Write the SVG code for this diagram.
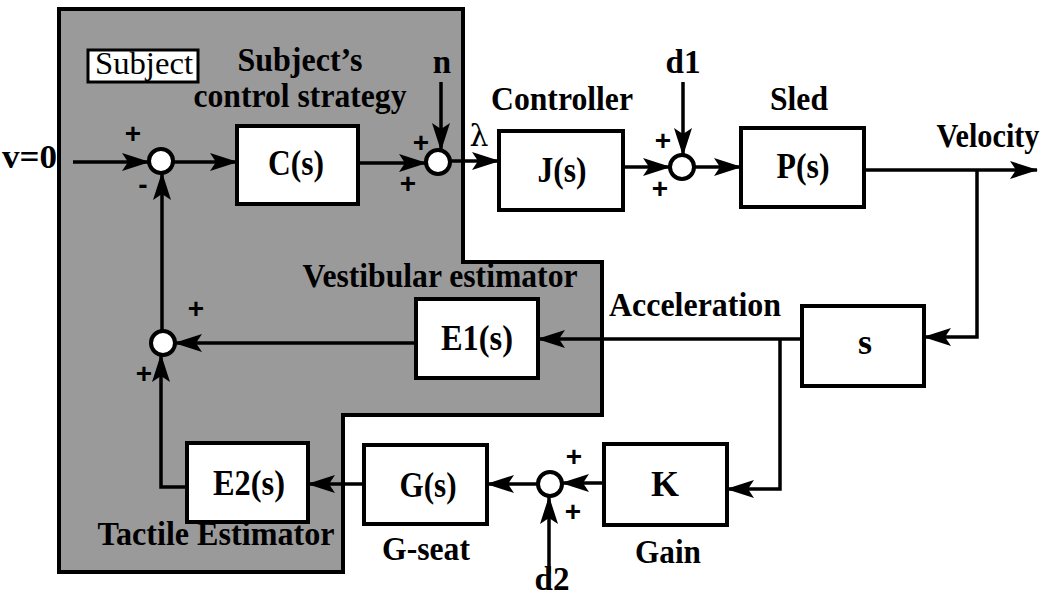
<svg xmlns="http://www.w3.org/2000/svg" width="1047" height="596" viewBox="0 0 1047 596">
<style>
.lbl{font-family:"Liberation Serif","Times New Roman",serif;font-weight:bold;font-size:33px;fill:#000;text-anchor:middle}
.bl{font-family:"Liberation Serif","Times New Roman",serif;font-weight:bold;font-size:36px;fill:#000;text-anchor:middle}
.pm{font-family:"Liberation Sans",Arial,sans-serif;font-weight:bold;font-size:28px;fill:#000;text-anchor:middle}
.box{fill:#fff;stroke:#000;stroke-width:4}
.sum{fill:#fff;stroke:#000;stroke-width:4}
.ln{fill:none;stroke:#000;stroke-width:3.5;marker-end:url(#ah)}
</style>
<defs>
<marker id="ah" viewBox="-30 -10 32 20" refX="0" refY="0" markerWidth="32" markerHeight="20" markerUnits="userSpaceOnUse" orient="auto">
<path d="M1,0 L-27,-9 L-21,0 L-27,9 Z" fill="#000"/>
</marker>
</defs>
<rect width="1047" height="596" fill="#fff"/>
<g id="subject">
<path d="M59,9 H463 V262 H602 V415 H343 V572 H59 Z" fill="#9a9a9a" stroke="#000" stroke-width="4"/>
<rect x="88" y="50" width="110" height="32" fill="#fff" stroke="#000" stroke-width="3"/>
<text x="144" y="74" textLength="98" lengthAdjust="spacingAndGlyphs" style="font-family:'Liberation Serif','Times New Roman',serif;font-size:32px;text-anchor:middle">Subject</text>
<text class="lbl" x="300" y="71" textLength="125" lengthAdjust="spacingAndGlyphs">Subject’s</text>
<text class="lbl" x="300" y="107" textLength="213" lengthAdjust="spacingAndGlyphs">control strategy</text>
<text class="lbl" x="440" y="287" textLength="275" lengthAdjust="spacingAndGlyphs">Vestibular estimator</text>
<text class="lbl" x="216" y="545" textLength="237" lengthAdjust="spacingAndGlyphs">Tactile Estimator</text>
</g>
<g id="connectors">
<path class="ln" d="M73,162 H149"/>
<path class="ln" d="M173,162 H237"/>
<path class="ln" d="M358,163 H426"/>
<path class="ln" d="M441,82 V150"/>
<path class="ln" d="M450,161 H499"/>
<path class="ln" d="M623,167 H670"/>
<path class="ln" d="M683,82 V155"/>
<path class="ln" d="M694,167 H741"/>
<path class="ln" d="M864,170 H1037"/>
<path class="ln" d="M977,170 V337 H924"/>
<path class="ln" d="M802,339 H538"/>
<path class="ln" d="M780,339 V489 H727"/>
<path class="ln" d="M604,483 H562"/>
<path class="ln" d="M538,484 H487"/>
<path class="ln" d="M549,573 V497"/>
<path class="ln" d="M364,484 H308"/>
<path class="ln" d="M187,487 H161 V355"/>
<path class="ln" d="M416,343 H175"/>
<path class="ln" d="M162,331 V173"/>
</g>
<g id="sum1"><circle class="sum" cx="161" cy="161" r="12"/><text class="pm" x="133" y="143">+</text><text class="pm" x="143" y="194">-</text></g>
<g id="sum2"><circle class="sum" cx="438" cy="162" r="12"/><text class="pm" x="421" y="152">+</text><text class="pm" x="408" y="193">+</text></g>
<g id="sum3"><circle class="sum" cx="682" cy="167" r="12"/><text class="pm" x="663" y="150">+</text><text class="pm" x="660" y="198">+</text></g>
<g id="sum4"><circle class="sum" cx="163" cy="343" r="12"/><text class="pm" x="196" y="318">+</text><text class="pm" x="144" y="383">+</text></g>
<g id="sum5"><circle class="sum" cx="550" cy="484" r="12"/><text class="pm" x="574" y="466">+</text><text class="pm" x="573" y="521">+</text></g>
<g id="C"><rect class="box" x="237" y="126" width="121" height="78"/><text class="bl" x="296" y="175" textLength="56" lengthAdjust="spacingAndGlyphs">C(s)</text></g>
<g id="J"><rect class="box" x="499" y="131" width="124" height="79"/><text class="bl" x="562" y="182" textLength="49" lengthAdjust="spacingAndGlyphs">J(s)</text></g>
<g id="P"><rect class="box" x="741" y="128" width="123" height="79"/><text class="bl" x="803" y="178" textLength="53" lengthAdjust="spacingAndGlyphs">P(s)</text></g>
<g id="S"><rect class="box" x="802" y="306" width="122" height="80"/><text class="bl" x="865" y="354">s</text></g>
<g id="E1"><rect class="box" x="416" y="299" width="122" height="79"/><text class="bl" x="477" y="350" textLength="72" lengthAdjust="spacingAndGlyphs">E1(s)</text></g>
<g id="E2"><rect class="box" x="187" y="443" width="121" height="79"/><text class="bl" x="249" y="495" textLength="72" lengthAdjust="spacingAndGlyphs">E2(s)</text></g>
<g id="G"><rect class="box" x="364" y="445" width="123" height="79"/><text class="bl" x="428" y="497" textLength="57" lengthAdjust="spacingAndGlyphs">G(s)</text></g>
<g id="K"><rect class="box" x="604" y="444" width="123" height="81"/><text class="bl" x="665" y="496">K</text></g>
<g id="labels">
<text class="lbl" x="2" y="168" style="text-anchor:start" textLength="55" lengthAdjust="spacingAndGlyphs">v=0</text>
<text class="lbl" x="442" y="73">n</text>
<text x="479" y="146" style="font-family:'DejaVu Serif','Liberation Serif',serif;font-size:30px;text-anchor:middle">λ</text>
<text class="lbl" x="562" y="110" textLength="142" lengthAdjust="spacingAndGlyphs">Controller</text>
<text class="lbl" x="683" y="73" textLength="35" lengthAdjust="spacingAndGlyphs">d1</text>
<text class="lbl" x="799" y="110" textLength="58" lengthAdjust="spacingAndGlyphs">Sled</text>
<text class="lbl" x="988" y="147" textLength="103" lengthAdjust="spacingAndGlyphs">Velocity</text>
<text class="lbl" x="695" y="316" textLength="172" lengthAdjust="spacingAndGlyphs">Acceleration</text>
<text class="lbl" x="426" y="560" textLength="88" lengthAdjust="spacingAndGlyphs">G-seat</text>
<text class="lbl" x="668" y="563" textLength="66" lengthAdjust="spacingAndGlyphs">Gain</text>
<text class="lbl" x="552" y="590" textLength="35" lengthAdjust="spacingAndGlyphs">d2</text>
</g>
</svg>
